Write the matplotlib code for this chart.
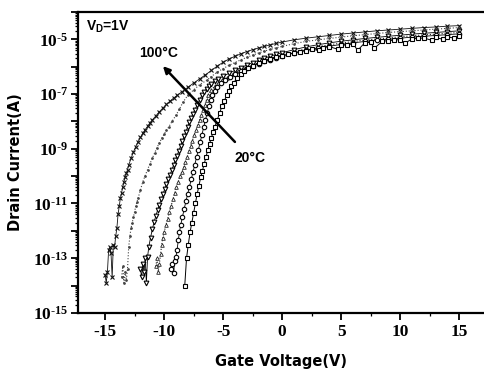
import numpy as np
import matplotlib
matplotlib.use("Agg")
import matplotlib.pyplot as plt
from matplotlib.ticker import FixedLocator, NullFormatter, LogLocator

plt.rcParams['axes.unicode_minus'] = False
plt.rcParams['mathtext.fontset'] = 'custom'
plt.rcParams['mathtext.rm'] = 'Liberation Serif:bold'
plt.rcParams['mathtext.bf'] = 'Liberation Serif:bold'
plt.rcParams['mathtext.it'] = 'Liberation Serif:italic:bold'
plt.rcParams['mathtext.sf'] = 'Liberation Sans:bold'

# ---- data: gate voltage (V) and log10 drain current (A) ----
# 100 C
v1 = [-15.0, -14.9, -14.8, -14.7, -14.6, -14.5, -14.4, -14.3, -14.2, -14.1, -14.0, -13.9,
      -13.8, -13.7, -13.6, -13.5, -13.4, -13.3, -13.2, -13.1, -13.0, -12.8, -12.6, -12.4,
      -12.2, -12.0, -11.8, -11.6, -11.4, -11.2, -11.0, -10.7, -10.4, -10.1, -9.8, -9.5,
      -9.2, -8.9, -8.5, -8.0, -7.5, -7.0, -6.5, -6.0, -5.5, -5.0, -4.5, -4.0, -3.5, -3.0,
      -2.5, -2.0, -1.5, -1.0, -0.5, 0, 1, 2, 3, 4, 5, 6, 7, 8, 9, 10, 11, 12, 13, 14, 15]
l1 = [-13.6, -13.9, -13.5, -12.7, -12.6, -12.8, -13.7, -12.5, -12.6, -12.2, -11.9, -11.4,
      -11.1, -10.8, -10.6, -10.4, -10.2, -10.05, -9.9, -9.77, -9.6, -9.35, -9.12, -8.92,
      -8.74, -8.58, -8.43, -8.3, -8.18, -8.06, -7.95, -7.8, -7.65, -7.51, -7.38, -7.26,
      -7.15, -7.05, -6.92, -6.76, -6.6, -6.45, -6.3, -6.14, -5.98, -5.84, -5.72, -5.62, -5.53, -5.45,
      -5.38, -5.32, -5.26, -5.2, -5.15, -5.1, -5.02, -4.96, -4.91, -4.86, -4.81, -4.77, -4.73,
      -4.69, -4.66, -4.63, -4.6, -4.57, -4.55, -4.52, -4.5]
# curve 2
v2 = [-13.6, -13.5, -13.4, -13.3, -13.2, -13.1, -13.0, -12.9, -12.8, -12.7, -12.6, -12.5,
      -12.4, -12.3, -12.2, -12.0, -11.8, -11.6, -11.4, -11.2, -11.0, -10.8, -10.6, -10.4,
      -10.2, -10.0, -9.8, -9.6, -9.3, -9.0, -8.7, -8.4, -8.0, -7.5, -7.0, -6.4, -6.0, -5.5,
      -5.0, -4.5, -4.0, -3.5, -3.0, -2.5, -2.0, -1.5, -1.0, -0.5, 0, 1, 2, 3, 4, 5, 6, 7, 8,
      9, 10, 11, 12, 13, 14, 15]
l2 = [-13.7, -13.3, -13.9, -13.5, -13.8, -13.4, -12.6, -12.2, -11.9, -11.7, -11.5, -11.3,
      -11.1, -10.95, -10.8, -10.5, -10.2, -9.98, -9.76, -9.55, -9.35, -9.15, -8.96, -8.78,
      -8.62, -8.47, -8.33, -8.2, -7.98, -7.78, -7.55, -7.3, -7.05, -6.85, -6.66, -6.5, -6.36,
      -6.2, -6.07, -5.95, -5.85, -5.75, -5.66, -5.58, -5.5, -5.43, -5.37, -5.31, -5.26, -5.16,
      -5.08, -5.02, -4.97, -4.92, -4.87, -4.83, -4.79, -4.75, -4.72, -4.69, -4.66, -4.63,
      -4.6, -4.57]
# curve 3 (triangles)
v3 = [-12.0, -11.9, -11.8, -11.7, -11.6, -11.5, -11.4, -11.3, -11.15, -11.0, -10.85, -10.7,
      -10.55, -10.4, -10.25, -10.1, -9.95, -9.8, -9.65, -9.5, -9.35, -9.2, -9.05, -8.9,
      -8.75, -8.6, -8.45, -8.3, -8.15, -8.0, -7.85, -7.7, -7.55, -7.4, -7.2, -7.0, -6.8,
      -6.6, -6.4, -6.2, -6.0, -5.7, -5.4, -5.0, -4.5, -4.0, -3.5, -3.0, -2.5, -2.0, -1.5,
      -1.0, -0.5, 0, 1, 2, 3, 4, 5, 6, 7, 8, 9, 10, 11, 12, 13, 14, 15]
l3 = [-13.4, -13.7, -13.2, -13.5, -13.0, -13.9, -12.95, -12.6, -12.25, -11.95, -11.68, -11.45,
      -11.24, -11.04, -10.85, -10.66, -10.48, -10.3, -10.12, -9.95, -9.78, -9.6, -9.42, -9.25,
      -9.07, -8.9, -8.72, -8.55, -8.37, -8.2, -8.02, -7.86, -7.72, -7.58, -7.4, -7.22, -7.05,
      -6.92, -6.8, -6.7, -6.62, -6.52, -6.44, -6.35, -6.24, -6.14, -6.04, -5.94, -5.85, -5.77,
      -5.69, -5.62, -5.55, -5.49, -5.38, -5.28, -5.2, -5.13, -5.07, -5.02, -4.97, -4.93,
      -4.89, -4.85, -4.81, -4.78, -4.75, -4.72, -4.69]
# curve 4
v4 = [-10.7, -10.6, -10.5, -10.4, -10.3, -10.2, -10.1, -10.0, -9.85, -9.7, -9.55, -9.4,
      -9.25, -9.1, -8.95, -8.8, -8.65, -8.5, -8.35, -8.2, -8.05, -7.9, -7.75, -7.6, -7.45,
      -7.3, -7.15, -7.0, -6.85, -6.7, -6.55, -6.4, -6.25, -6.0, -5.7, -5.4, -5.1, -4.7, -4.2,
      -3.7, -3.2, -2.6, -2.0, -1.5, -1.0, -0.5, 0, 1, 2, 3, 4, 5, 6, 7, 8, 9, 10, 11, 12, 13,
      14, 15]
l4 = [-13.3, -13.0, -13.5, -13.2, -12.85, -12.5, -12.25, -12.05, -11.8, -11.56, -11.32, -11.08,
      -10.85, -10.62, -10.4, -10.2, -10.0, -9.85, -9.68, -9.5, -9.3, -9.1, -8.9, -8.7, -8.5,
      -8.3, -8.12, -7.95, -7.78, -7.6, -7.4, -7.2, -7.02, -6.85, -6.7, -6.6, -6.5, -6.4, -6.28,
      -6.17, -6.07, -5.96, -5.86, -5.78, -5.7, -5.63, -5.57, -5.45, -5.35, -5.27, -5.2, -5.14,
      -5.08, -5.03, -4.99, -4.95, -4.91, -4.87, -4.84, -4.81, -4.78, -4.75]
# curve 5 (circles)
v5 = [-9.4, -9.3, -9.2, -9.1, -9.0, -8.9, -8.8, -8.7, -8.6, -8.45, -8.3, -8.15, -8.0, -7.85,
      -7.7, -7.55, -7.4, -7.25, -7.1, -6.95, -6.8, -6.65, -6.5, -6.35, -6.2, -6.05, -5.9,
      -5.7, -5.5, -5.2, -4.8, -4.4, -4.0, -3.5, -3.0, -2.5, -2.0, -1.5, -1.0, -0.5, 0, 1, 2,
      3, 4, 5, 6, 7, 8, 9, 10, 11, 12, 13, 14, 15]
l5 = [-13.4, -13.2, -13.55, -13.1, -12.95, -12.7, -12.35, -12.05, -11.8, -11.5, -11.2, -10.92,
      -10.65, -10.38, -10.12, -9.85, -9.58, -9.31, -9.04, -8.77, -8.5, -8.22, -7.95, -7.7,
      -7.45, -7.22, -7.04, -6.88, -6.75, -6.6, -6.48, -6.37, -6.27, -6.16, -6.06, -5.97,
      -5.89, -5.81, -5.74, -5.67, -5.61, -5.5, -5.4, -5.32, -5.25, -5.19, -5.13, -5.08,
      -5.04, -5.0, -4.96, -4.92, -4.89, -4.86, -4.83, -4.8]
# 20 C (squares)
v6 = [-8.25, -8.1, -7.95, -7.8, -7.65, -7.5, -7.35, -7.2, -7.05, -6.9, -6.75, -6.6, -6.45,
      -6.3, -6.15, -6.0, -5.85, -5.7, -5.5, -5.3, -5.1, -4.9, -4.7, -4.5, -4.3, -4.1, -3.8,
      -3.5, -3.2, -2.9, -2.5, -2.0, -1.5, -1.0, -0.5, 0.0, 0.5, 1.0, 1.5, 2.0, 2.5, 3.1, 3.5,
      4.0, 4.7, 5.0, 5.5, 6.0, 6.4, 7.0, 7.5, 7.8, 8.5, 9.0, 9.5, 10.0, 10.4, 11.0, 11.5,
      12.0, 12.7, 13.0, 13.6, 14.0, 14.6, 15.0]
l6 = [-14.0, -13.0, -12.5, -12.05, -11.7, -11.35, -11.0, -10.65, -10.35, -10.05, -9.8, -9.55,
      -9.3, -9.05, -8.82, -8.6, -8.4, -8.2, -7.95, -7.7, -7.45, -7.25, -7.05, -6.88, -6.72,
      -6.58, -6.42, -6.28, -6.16, -6.06, -5.96, -5.86, -5.78, -5.71, -5.65, -5.6, -5.55,
      -5.5, -5.45, -5.41, -5.37, -5.4, -5.3, -5.27, -5.36, -5.22, -5.2, -5.17, -5.4, -5.13,
      -5.11, -5.33, -5.07, -5.05, -5.03, -5.01, -5.15, -4.98, -4.97, -4.95, -5.04, -4.93,
      -5.0, -4.91, -4.96, -4.88]

temps = ['100', '85', '70', '55', '40', '20']
xticks = [-15, -10, -5, 0, 5, 10, 15]
yexps = list(range(-15, -3))

fig = plt.figure(figsize=(4.84, 3.73), dpi=100)
ax = fig.add_axes([0.161, 0.161, 0.839, 0.807])

series = [(v1, l1), (v2, l2), (v3, l3), (v4, l4), (v5, l5), (v6, l6)]
styles = [
    dict(marker='x', ms=2.6, mew=0.8, color='#111111', ls='-', lw=0.6),
    dict(marker='.', ms=2.8, mew=0.5, color='#444444', ls=':', lw=0.8),
    dict(marker='v', ms=3.4, mew=0.8, color='black', mfc='white', ls='-', lw=0.6),
    dict(marker='^', ms=2.6, mew=0.6, color='#222222', mfc='white', ls=':', lw=0.8),
    dict(marker='o', ms=3.2, mew=0.8, color='black', mfc='white', ls='-', lw=0.6),
    dict(marker='s', ms=3.4, mew=0.8, color='black', mfc='white', ls='-', lw=0.7),
]
for (v, l), st, t in zip(series, styles, temps):
    ax.plot(v, 10.0 ** np.array(l), label=t, **st)

ax.set_yscale('log')
ax.set_xlim(-17.3, 17.1)
ax.set_ylim(1e-15, 1e-4)

ax.xaxis.set_major_locator(FixedLocator(xticks))
ax.xaxis.set_minor_locator(FixedLocator([x + 2.5 for x in [-17.5] + xticks]))
ax.set_xticklabels([str(x) for x in xticks], fontfamily='Liberation Serif',
                   fontweight='bold', fontsize=12.5)
ax.yaxis.set_major_locator(FixedLocator([10.0 ** e for e in yexps]))
ax.set_yticklabels([('$10^{\u2010%d}$' % abs(e)) if e % 2 else '' for e in yexps],
                   fontsize=12.5)
ax.yaxis.set_minor_locator(LogLocator(base=10, subs=np.arange(2, 10), numticks=30))
ax.yaxis.set_minor_formatter(NullFormatter())

ax.tick_params(axis='both', which='major', direction='out', length=5, width=1.3, pad=2)
ax.tick_params(axis='both', which='minor', direction='out', length=2.5, width=0.9)
ax.tick_params(axis='x', which='major', pad=3)

for s in ['left', 'bottom', 'top']:
    ax.spines[s].set_linewidth(1.6)
ax.spines['right'].set_visible(False)

ax.set_xlabel('Gate Voltage(V)', fontfamily='DejaVu Sans', fontweight='bold', fontsize=10.5,
              labelpad=10)
ax.set_ylabel('Drain Current(A)', fontfamily='DejaVu Sans', fontweight='bold', fontsize=10.5,
              labelpad=7)

ax.annotate('', xy=(-10.1, 10 ** -5.98), xytext=(-4.0, 10 ** -8.75),
            arrowprops=dict(arrowstyle='-|>', lw=1.8, color='black',
                            mutation_scale=10, shrinkA=0, shrinkB=0))
ax.text(-10.5, 10 ** -5.5, '100°C', fontfamily='Liberation Sans', fontweight='bold',
        fontsize=10, ha='center', va='center')
ax.text(-2.7, 10 ** -9.33, '20°C', fontfamily='Liberation Sans', fontweight='bold',
        fontsize=10, ha='center', va='center')
ax.text(-16.6, 10 ** -4.56, r'V$_\mathsf{D}$=1V', fontfamily='Liberation Sans',
        fontweight='bold', fontsize=10, ha='left', va='center')

fig.savefig('out.png', dpi=100)
